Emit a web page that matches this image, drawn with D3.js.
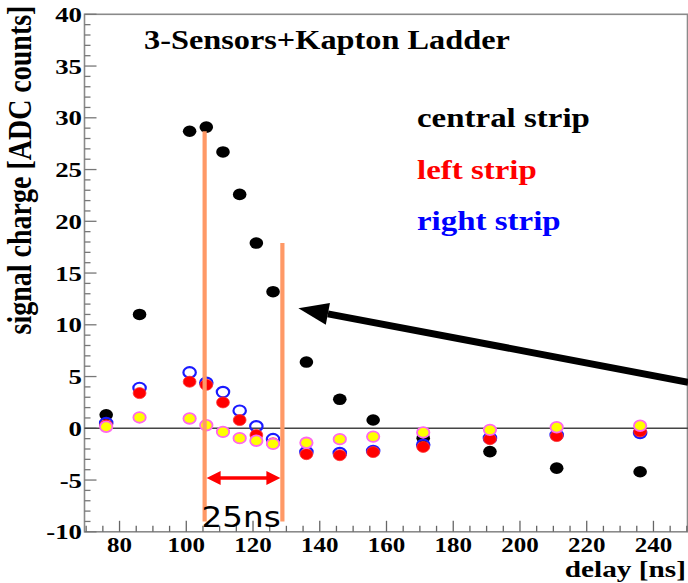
<!DOCTYPE html>
<html>
<head>
<meta charset="utf-8">
<script src="https://cdn.jsdelivr.net/npm/d3@7/dist/d3.min.js"></script>
<style>
html,body{margin:0;padding:0;background:#fff;}
svg{display:block;}
</style>
</head>
<body>
<svg id="chart" width="688" height="583"></svg>
<script>
// ---------------- data ----------------
const delays  = [76, 86, 101, 106, 111, 116, 121, 126, 136, 146, 156, 171, 191, 211, 236];
const central = [1.3, 11.0, 28.7, 29.1, 26.7, 22.6, 17.9, 13.2, 6.4, 2.8, 0.8, -0.95, -2.25, -3.85, -4.2];
const left    = [0.3, 3.4, 4.5, 4.2, 2.5, 0.8, -0.65, -1.45, -2.5, -2.6, -2.3, -1.8, -1.05, -0.75, -0.3];
const right   = [0.5, 3.9, 5.4, 4.4, 3.5, 1.7, 0.2, -1.05, -2.3, -2.4, -2.2, -1.6, -0.95, -0.65, -0.45];
const other   = [0.15, 1.05, 0.95, 0.3, -0.35, -0.95, -1.2, -1.5, -1.4, -1.05, -0.8, -0.4, -0.15, 0.1, 0.25];

const xTicks = [80, 100, 120, 140, 160, 180, 200, 220, 240];
const yTicks = [-10, -5, 0, 5, 10, 15, 20, 25, 30, 35, 40];
const legendLabels = ["central strip", "left strip", "right strip"];
const legendColors = ["#000000", "#ff0000", "#0000ff"];
const title = "3-Sensors+Kapton Ladder";
const xTitle = "delay [ns]";
const yTitle = "signal charge [ADC counts]";

// annotation (in data units)
const windowLines = [{ns: 105.5, top: 28.7}, {ns: 128.8, top: 17.9}];
const windowBottom = -9.0;
const windowArrowY = -4.8;
const windowLabel = "25ns";
const pointerTip = {ns: 133.6, v: 11.6};
const pointerTail = {ns: 250.4, v: 4.45};

// ---------------- scales ----------------
const svg = d3.select("#chart");
const x = d3.scaleLinear().domain([69.5, 250.2]).range([84.5, 687.5]);
const y = d3.scaleLinear().domain([-10, 40]).range([531.8, 14.3]);
const SX = 1.22; // horizontal stretch of the original picture
const serif = "'Liberation Serif','Times New Roman',serif";

// frame
svg.append("rect")
  .attr("x", x.range()[0]).attr("y", y.range()[1])
  .attr("width", x.range()[1] - x.range()[0])
  .attr("height", y.range()[0] - y.range()[1])
  .attr("fill", "none").attr("stroke", "#8a8a8a").attr("stroke-width", 1.6);

// y ticks (inward)
const yMinor = d3.range(-10, 40.01, 1);
svg.append("g").selectAll("line").data(yMinor).join("line")
  .attr("x1", x.range()[0]).attr("x2", d => x.range()[0] + (d % 5 === 0 ? 12 : 6))
  .attr("y1", d => y(d)).attr("y2", d => y(d))
  .attr("stroke", "#777").attr("stroke-width", 1.3);

// x ticks (inward)
const xMinor = d3.range(70, 250.01, 5);
svg.append("g").selectAll("line").data(xMinor).join("line")
  .attr("x1", d => x(d)).attr("x2", d => x(d))
  .attr("y1", y.range()[0]).attr("y2", d => y.range()[0] - (d % 20 === 0 ? 11 : 6))
  .attr("stroke", "#666").attr("stroke-width", 1.3);

// tick labels
svg.append("g").selectAll("g").data(yTicks).join("g")
  .attr("transform", d => `translate(82,${y(d) + 7.5}) scale(${SX},1)`)
  .append("text")
  .attr("text-anchor", "end")
  .attr("font-family", serif).attr("font-weight", "bold").attr("font-size", 22)
  .text(d => d < 0 ? "-" + Math.abs(d) : d);

svg.append("g").selectAll("g").data(xTicks).join("g")
  .attr("transform", d => `translate(${x(d)},552) scale(${SX},1)`)
  .append("text")
  .attr("text-anchor", "middle")
  .attr("font-family", serif).attr("font-weight", "bold").attr("font-size", 20.5)
  .text(d => d);

// axis titles
svg.append("g").attr("transform", `translate(686,576.5) scale(${SX},1)`)
  .append("text").attr("text-anchor", "end")
  .attr("font-family", serif).attr("font-weight", "bold").attr("font-size", 24)
  .text(xTitle);

svg.append("g").attr("transform", `translate(31,170) scale(${SX},1) rotate(-90)`)
  .append("text").attr("text-anchor", "middle")
  .attr("font-family", serif).attr("font-weight", "bold").attr("font-size", 28)
  .text(yTitle);

// zero line
svg.append("line")
  .attr("x1", x.range()[0]).attr("x2", 688)
  .attr("y1", y(0)).attr("y2", y(0))
  .attr("stroke", "#444").attr("stroke-width", 1.6);

// title
svg.append("g").attr("transform", `translate(144,49) scale(${SX},1)`)
  .append("text")
  .attr("font-family", serif).attr("font-weight", "bold").attr("font-size", 26.5)
  .text(title);

// legend
svg.append("g").selectAll("g").data(legendLabels).join("g")
  .attr("transform", (d, i) => `translate(417,${127 + i * 51.5}) scale(${SX},1)`)
  .append("text")
  .attr("font-family", serif).attr("font-weight", "bold").attr("font-size", 27)
  .attr("fill", (d, i) => legendColors[i])
  .text(d => d);

// ---------------- markers ----------------
const pts = (vals) => delays.map((d, i) => ({d, v: vals[i]}));

svg.append("g").selectAll("ellipse").data(pts(central)).join("ellipse")
  .attr("cx", p => x(p.d)).attr("cy", p => y(p.v))
  .attr("rx", 6.8).attr("ry", 5.8).attr("fill", "#000");

svg.append("g").selectAll("ellipse").data(pts(right)).join("ellipse")
  .attr("cx", p => x(p.d)).attr("cy", p => y(p.v))
  .attr("rx", 6.2).attr("ry", 5.2).attr("fill", "none")
  .attr("stroke", "#1a1aff").attr("stroke-width", 2.2);

svg.append("g").selectAll("ellipse").data(pts(left)).join("ellipse")
  .attr("cx", p => x(p.d)).attr("cy", p => y(p.v))
  .attr("rx", 6.4).attr("ry", 5.5).attr("fill", "#ff0000")
  .attr("stroke", "#ff3333").attr("stroke-width", 0.8);

svg.append("g").selectAll("ellipse").data(pts(other)).join("ellipse")
  .attr("cx", p => x(p.d)).attr("cy", p => y(p.v))
  .attr("rx", 6.2).attr("ry", 5.3).attr("fill", "#ffff00")
  .attr("stroke", "#ff66ee").attr("stroke-width", 1.8);

// ---------------- annotations ----------------
svg.append("g").selectAll("line").data(windowLines).join("line")
  .attr("x1", w => x(w.ns)).attr("x2", w => x(w.ns))
  .attr("y1", w => y(w.top)).attr("y2", y(windowBottom))
  .attr("stroke", "#ff9966").attr("stroke-width", 4.2);

// red double arrow
const ax1 = x(windowLines[0].ns) + 2, ax2 = x(windowLines[1].ns) - 2, ay = y(windowArrowY);
svg.append("line").attr("x1", ax1 + 10).attr("x2", ax2 - 10)
  .attr("y1", ay).attr("y2", ay).attr("stroke", "#ff0000").attr("stroke-width", 3.5);
svg.append("path")
  .attr("d", `M${ax1},${ay} L${ax1 + 14},${ay - 7} L${ax1 + 14},${ay + 7} Z M${ax2},${ay} L${ax2 - 14},${ay - 7} L${ax2 - 14},${ay + 7} Z`)
  .attr("fill", "#ff0000");

svg.append("text")
  .attr("x", x(windowLines[0].ns) - 3).attr("y", y(windowBottom) + 5.5)
  .attr("font-family", "'DejaVu Sans', sans-serif").attr("font-size", 29)
  .attr("textLength", 79).attr("lengthAdjust", "spacingAndGlyphs")
  .attr("fill", "#000")
  .text(windowLabel);

// big black pointer arrow
const tx = x(pointerTip.ns), ty = y(pointerTip.v);
const ex = x(pointerTail.ns), ey = y(pointerTail.v);
const ang = Math.atan2(ey - ty, ex - tx);
const headLen = 30, headW = 11;
const bx = tx + headLen * Math.cos(ang), by = ty + headLen * Math.sin(ang);
svg.append("line").attr("x1", bx).attr("y1", by).attr("x2", ex).attr("y2", ey)
  .attr("stroke", "#000").attr("stroke-width", 7);
svg.append("path")
  .attr("d", `M${tx},${ty} L${bx - headW * Math.sin(ang)},${by + headW * Math.cos(ang)} L${bx + headW * Math.sin(ang)},${by - headW * Math.cos(ang)} Z`)
  .attr("fill", "#000");
</script>
</body>
</html>
